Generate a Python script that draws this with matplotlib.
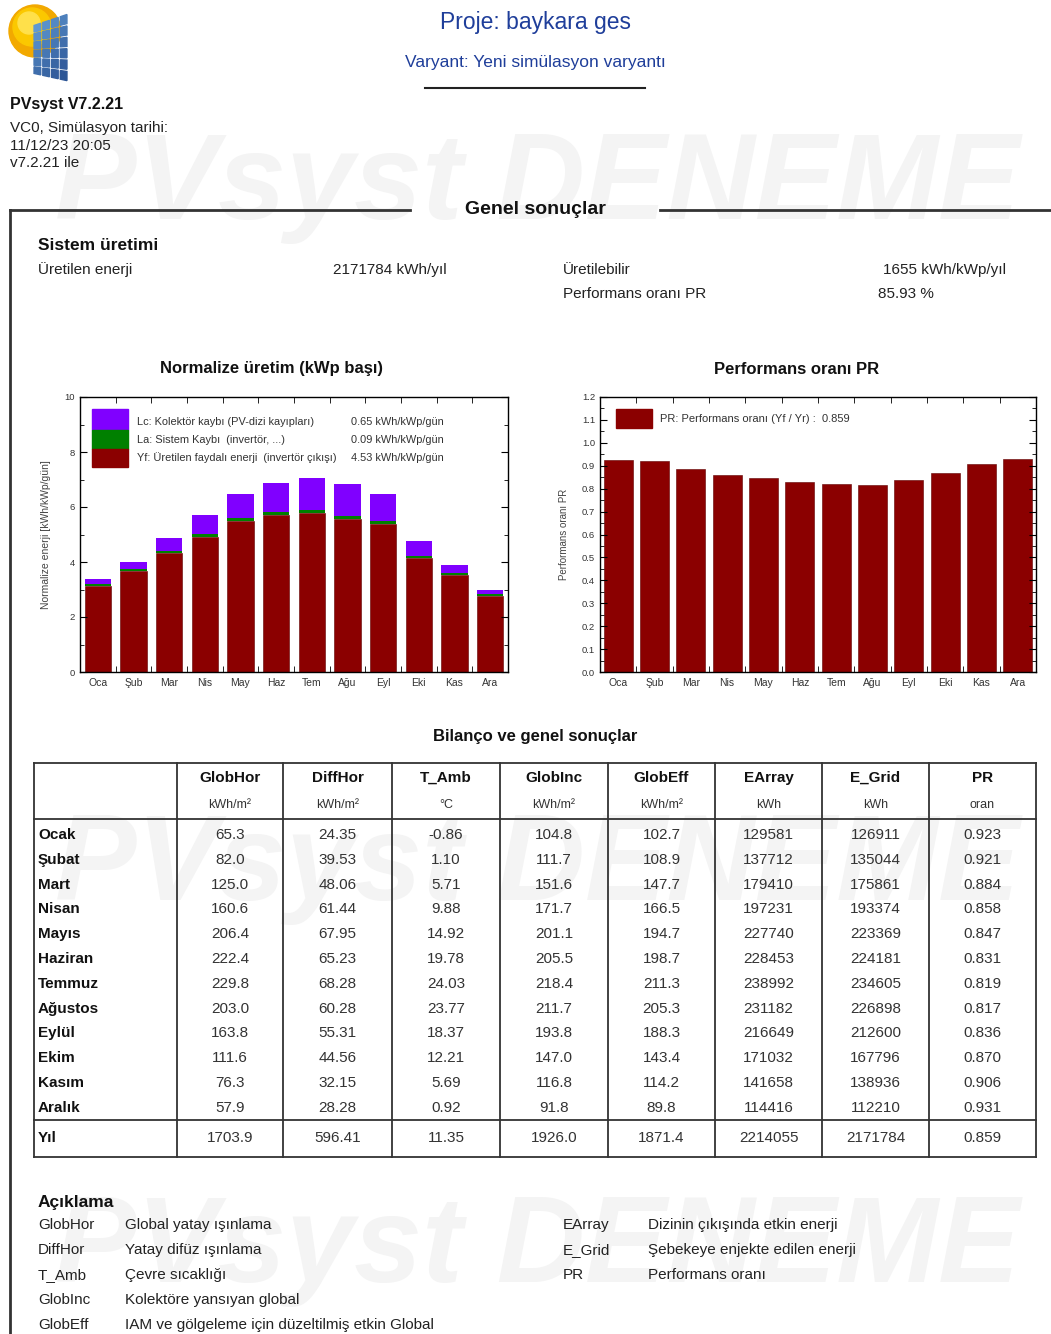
import numpy as np
import matplotlib
matplotlib.use('Agg')
import matplotlib.pyplot as plt
from matplotlib.patches import Rectangle, Circle, Polygon

plt.rcParams['font.family'] = ['Liberation Sans', 'DejaVu Sans']

# ---- data ----
months_short = ['Oca', 'Şub', 'Mar', 'Nis', 'May', 'Haz', 'Tem', 'Ağu', 'Eyl', 'Eki', 'Kas', 'Ara']
months_long = ['Ocak', 'Şubat', 'Mart', 'Nisan', 'Mayıs', 'Haziran', 'Temmuz', 'Ağustos',
               'Eylül', 'Ekim', 'Kasım', 'Aralık']

# normalized production (kWh/kWp/gün)
yf = [3.12, 3.68, 4.32, 4.91, 5.49, 5.70, 5.77, 5.58, 5.40, 4.13, 3.53, 2.76]
la = [0.07, 0.07, 0.09, 0.10, 0.11, 0.11, 0.11, 0.11, 0.10, 0.08, 0.07, 0.06]
lc = [0.20, 0.24, 0.48, 0.71, 0.89, 1.05, 1.17, 1.15, 0.96, 0.54, 0.30, 0.15]

# table columns
glob_hor = [65.3, 82.0, 125.0, 160.6, 206.4, 222.4, 229.8, 203.0, 163.8, 111.6, 76.3, 57.9]
diff_hor = [24.35, 39.53, 48.06, 61.44, 67.95, 65.23, 68.28, 60.28, 55.31, 44.56, 32.15, 28.28]
t_amb = [-0.86, 1.10, 5.71, 9.88, 14.92, 19.78, 24.03, 23.77, 18.37, 12.21, 5.69, 0.92]
glob_inc = [104.8, 111.7, 151.6, 171.7, 201.1, 205.5, 218.4, 211.7, 193.8, 147.0, 116.8, 91.8]
glob_eff = [102.7, 108.9, 147.7, 166.5, 194.7, 198.7, 211.3, 205.3, 188.3, 143.4, 114.2, 89.8]
e_array = [129581, 137712, 179410, 197231, 227740, 228453, 238992, 231182, 216649, 171032, 141658, 114416]
e_grid = [126911, 135044, 175861, 193374, 223369, 224181, 234605, 226898, 212600, 167796, 138936, 112210]
pr = [0.923, 0.921, 0.884, 0.858, 0.847, 0.831, 0.819, 0.817, 0.836, 0.870, 0.906, 0.931]
year_row = [1703.9, 596.41, 11.35, 1926.0, 1871.4, 2214055, 2171784, 0.859]

headers = ['GlobHor', 'DiffHor', 'T_Amb', 'GlobInc', 'GlobEff', 'EArray', 'E_Grid', 'PR']
units = ['kWh/m²', 'kWh/m²', '°C', 'kWh/m²', 'kWh/m²', 'kWh', 'kWh', 'oran']
fmts = ['{:.1f}', '{:.2f}', '{:.2f}', '{:.1f}', '{:.1f}', '{:d}', '{:d}', '{:.3f}']

legend_left = [('GlobHor', 'Global yatay ışınlama'),
               ('DiffHor', 'Yatay difüz ışınlama'),
               ('T_Amb', 'Çevre sıcaklığı'),
               ('GlobInc', 'Kolektöre yansıyan global'),
               ('GlobEff', 'IAM ve gölgeleme için düzeltilmiş etkin Global')]
legend_right = [('EArray', 'Dizinin çıkışında etkin enerji'),
                ('E_Grid', 'Şebekeye enjekte edilen enerji'),
                ('PR', 'Performans oranı')]

W, H = 1051, 1334
PURPLE, GREEN, RED = '#8000ff', '#008000', '#8b0000'
TXT = '#222222'
FS = 11

fig = plt.figure(figsize=(W / 100, H / 100), dpi=100)
bg = fig.add_axes([0, 0, 1, 1], zorder=0)
bg.set_xlim(0, W)
bg.set_ylim(H, 0)
bg.axis('off')

def pax(x0, y0, x1, y1):
    return fig.add_axes([x0 / W, 1 - y1 / H, (x1 - x0) / W, (y1 - y0) / H], zorder=2)

# watermark
for yy in [187, 868, 1250]:
    bg.text(537, yy, 'PVsyst DENEME', fontsize=88, fontweight='bold', style='italic',
            color='#f4f4f4', ha='center', va='center', zorder=0)

# logo: sun + panel grid
bg.add_patch(Circle((35, 31), 26, color='#f2a900', zorder=1))
bg.add_patch(Circle((32, 27), 19, color='#fbc800', zorder=1))
bg.add_patch(Circle((29, 23), 11, color='#ffe04a', zorder=1))
TL, TR, BL, BR = np.array([33, 25]), np.array([68, 13]), np.array([33, 74]), np.array([68, 82])
def corner(u, v):
    top = TL + (TR - TL) * u
    bot = BL + (BR - BL) * u
    return top + (bot - top) * v
ncol, nrow = 4, 6
for i in range(ncol):
    for j in range(nrow):
        u0, u1 = (i + 0.12) / ncol, (i + 0.88) / ncol
        v0, v1 = (j + 0.1) / nrow, (j + 0.9) / nrow
        shade = 0.15 + 0.7 * (j / (nrow - 1)) * 0.6 + 0.25 * i / (ncol - 1)
        c = np.array([0.42, 0.66, 0.88]) * (1 - shade) + np.array([0.12, 0.26, 0.52]) * shade
        bg.add_patch(Polygon([corner(u0, v0), corner(u1, v0), corner(u1, v1), corner(u0, v1)],
                             closed=True, color=c, zorder=2))

# header
bg.text(535, 22, 'Proje: baykara ges', fontsize=16.5, color='#1f3e9a', ha='center', va='center')
bg.text(535, 62, 'Varyant: Yeni simülasyon varyantı', fontsize=12.5, color='#1f3e9a',
        ha='center', va='center')
bg.plot([425, 645], [88, 88], color='#222', lw=1.5)
bg.text(10, 104, 'PVsyst V7.2.21', fontsize=11.5, fontweight='bold', color='#111', va='center')
bg.text(10, 128, 'VC0, Simülasyon tarihi:', fontsize=FS, color=TXT, va='center')
bg.text(10, 146, '11/12/23 20:05', fontsize=FS, color=TXT, va='center')
bg.text(10, 163, 'v7.2.21 ile', fontsize=FS, color=TXT, va='center')

# section frame
bg.plot([10, 410], [210, 210], color='#333', lw=2)
bg.plot([660, W], [210, 210], color='#333', lw=2)
bg.plot([10, 10], [210, H], color='#333', lw=2)
bg.text(535, 210, 'Genel sonuçlar', fontsize=14, fontweight='bold', color='#111', ha='center', va='center')

bg.text(38, 245, 'Sistem üretimi', fontsize=12.5, fontweight='bold', color='#111', va='center')
bg.text(38, 270, 'Üretilen enerji', fontsize=FS, color=TXT, va='center')
bg.text(333, 270, '2171784 kWh/yıl', fontsize=FS, color=TXT, va='center')
bg.text(563, 270, 'Üretilebilir', fontsize=FS, color=TXT, va='center')
bg.text(883, 270, '1655 kWh/kWp/yıl', fontsize=FS, color=TXT, va='center')
bg.text(563, 294, 'Performans oranı PR', fontsize=FS, color=TXT, va='center')
bg.text(878, 294, '85.93 %', fontsize=FS, color=TXT, va='center')

# ---- chart 1: normalized production ----
bg.text(272, 369, 'Normalize üretim (kWp başı)', fontsize=12, fontweight='bold', color='#111',
        ha='center', va='center')
b1 = (80, 397, 508, 672)
ax1 = pax(*b1)
x = np.arange(12)
ax1.bar(x, yf, width=0.74, color=RED, edgecolor='#600000', lw=0.4)
ax1.bar(x, la, width=0.74, bottom=yf, color=GREEN, lw=0)
ax1.bar(x, lc, width=0.74, bottom=np.array(yf) + np.array(la), color=PURPLE, lw=0)
ax1.set_xlim(-0.5, 11.5)
ax1.set_ylim(0, 10)
ax1.set_yticks(np.arange(0, 11, 2))
ax1.set_yticks(np.arange(1, 10, 2), minor=True)
ax1.set_ylabel('Normalize enerji [kWh/kWp/gün]', fontsize=7.5, color='#444', labelpad=10)

def to_ax(box, px, py):
    x0, y0, x1, y1 = box
    return (px - x0) / (x1 - x0), (y1 - py) / (y1 - y0)

# legend drawn by hand
for (ya, yb), c in zip([(409, 430), (430, 449), (449, 467)], [PURPLE, GREEN, RED]):
    lx, ly = to_ax(b1, 92, yb)
    ax1.add_patch(Rectangle((lx, ly), 36 / 428, (yb - ya) / 275, color=c, transform=ax1.transAxes))
leg_rows = [('Lc: Kolektör kaybı (PV-dizi kayıpları)', '0.65 kWh/kWp/gün', 422),
            ('La: Sistem Kaybı  (invertör, ...)', '0.09 kWh/kWp/gün', 440),
            ('Yf: Üretilen faydalı enerji  (invertör çıkışı)', '4.53 kWh/kWp/gün', 458)]
for lab, val, yy in leg_rows:
    ax1.text(*to_ax(b1, 137, yy), lab, fontsize=7.9, color='#333', va='center',
             transform=ax1.transAxes)
    ax1.text(*to_ax(b1, 444, yy), val, fontsize=7.9, color='#333', va='center', ha='right',
             transform=ax1.transAxes)

# ---- chart 2: PR ----
bg.text(797, 369, 'Performans oranı PR', fontsize=12, fontweight='bold', color='#111',
        ha='center', va='center')
b2 = (600, 397, 1036, 672)
ax2 = pax(*b2)
ax2.bar(x, pr, width=0.8, color=RED, edgecolor='#600000', lw=0.4)
ax2.set_xlim(-0.5, 11.5)
ax2.set_ylim(0, 1.2)
ax2.set_yticks(np.arange(0, 1.21, 0.1))
ax2.set_yticks(np.arange(0.05, 1.2, 0.1), minor=True)
ax2.set_yticklabels(['{:.1f}'.format(v) for v in np.arange(0, 1.21, 0.1)])
ax2.set_ylabel('Performans oranı PR', fontsize=7, color='#444', labelpad=9)
lx, ly = to_ax(b2, 616, 428)
ax2.add_patch(Rectangle((lx, ly), 36 / 436, 19 / 275, color=RED, transform=ax2.transAxes))
ax2.text(*to_ax(b2, 660, 419), 'PR: Performans oranı (Yf / Yr) :  0.859', fontsize=8,
         color='#333', va='center', transform=ax2.transAxes)

for ax in (ax1, ax2):
    ax.set_xticks(x)
    ax.set_xticklabels(months_short)
    ax.set_xticks(np.arange(0.5, 11, 1), minor=True)
    ax.tick_params(axis='x', which='major', length=0, labelsize=7.5, labelcolor='#333', pad=4)
    ax.tick_params(axis='x', which='minor', direction='in', top=True, bottom=True, length=4)
    ax.tick_params(axis='y', which='major', direction='in', left=True, right=True, length=5,
                   labelsize=6.8, labelcolor='#333')
    ax.tick_params(axis='y', which='minor', direction='in', left=True, right=True, length=3)
    for s in ax.spines.values():
        s.set_linewidth(1.0)

# ---- table ----
bg.text(535, 737, 'Bilanço ve genel sonuçlar', fontsize=12, fontweight='bold', color='#111',
        ha='center', va='center')
col_edges = [34, 177, 283, 392, 500, 608, 715, 822, 929, 1036]
ty0, ty_head, ty_year, ty1 = 763, 819, 1120, 1157
for xe in col_edges:
    bg.plot([xe, xe], [ty0, ty1], color='#333', lw=1.3)
for ye in [ty0, ty_head, ty_year, ty1]:
    bg.plot([col_edges[0], col_edges[-1]], [ye, ye], color='#333', lw=1.3)

columns = [glob_hor, diff_hor, t_amb, glob_inc, glob_eff, e_array, e_grid, pr]
centers = [(a + b) / 2 for a, b in zip(col_edges[1:-1], col_edges[2:])]
for c, h, u, f, col, yv in zip(centers, headers, units, fmts, columns, year_row):
    bg.text(c, 778, h, fontsize=FS, fontweight='bold', color='#111', ha='center', va='center')
    bg.text(c, 805, u, fontsize=9, color='#333', ha='center', va='center')
    for i, v in enumerate(col):
        bg.text(c, 835 + i * 24.8, f.format(v), fontsize=FS, color='#333', ha='center', va='center')
    bg.text(c, 1138, f.format(yv), fontsize=FS, color='#333', ha='center', va='center')
for i, m in enumerate(months_long):
    bg.text(38, 835 + i * 24.8, m, fontsize=FS, fontweight='bold', color='#111', va='center')
bg.text(38, 1138, 'Yıl', fontsize=FS, fontweight='bold', color='#111', va='center')

# ---- abbreviations ----
bg.text(38, 1203, 'Açıklama', fontsize=12.5, fontweight='bold', color='#111', va='center')
for i, (k, d) in enumerate(legend_left):
    yy = 1225 + i * 25
    bg.text(38, yy, k, fontsize=FS, color=TXT, va='center')
    bg.text(125, yy, d, fontsize=FS, color=TXT, va='center')
for i, (k, d) in enumerate(legend_right):
    yy = 1225 + i * 25
    bg.text(563, yy, k, fontsize=FS, color=TXT, va='center')
    bg.text(648, yy, d, fontsize=FS, color=TXT, va='center')

fig.savefig('out.png', dpi=100)
